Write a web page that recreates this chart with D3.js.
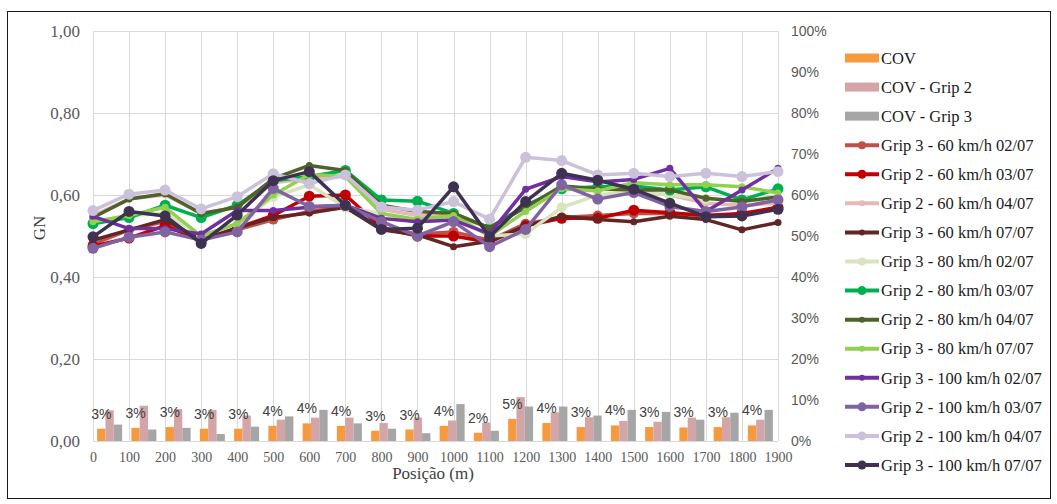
<!DOCTYPE html>
<html>
<head>
<meta charset="utf-8">
<script src="https://cdn.jsdelivr.net/npm/d3@7/dist/d3.min.js"></script>
<style>
  html, body { margin: 0; padding: 0; background: #fff; }
  svg { display: block; }
</style>
</head>
<body>
<svg id="chart" width="1057" height="504"></svg>
<script>
// Positions along the road (m)
const positions = [0,100,200,300,400,500,600,700,800,900,1000,1100,1200,1300,1400,1500,1600,1700,1800,1900];

// Axis ticks
const gnTicks = [0, 0.2, 0.4, 0.6, 0.8, 1.0];
const pctTicks = [0,10,20,30,40,50,60,70,80,90,100];

// Coefficient of variation (%) per segment
const cov      = [3.0,3.2,3.4,3.0,3.0,3.7,4.3,3.7,2.5,2.8,3.7,2.0,5.4,4.4,3.4,3.8,3.4,3.3,3.4,3.8];
const covGrip2 = [7.5,8.6,7.8,7.6,6.2,5.2,5.7,5.7,4.4,5.7,5.0,4.5,10.7,7.0,5.8,4.9,4.7,5.7,5.8,5.2];
const covGrip3 = [4.0,2.8,3.2,1.7,3.5,6.0,7.6,4.3,3.0,1.9,9.0,2.5,8.4,8.4,6.2,7.6,7.1,5.2,6.9,7.6];

// Grip Number readings per run
const g3_60_0207  = [0.480,0.515,0.535,0.490,0.515,0.540,0.560,0.570,0.520,0.505,0.510,0.490,0.530,0.545,0.550,0.555,0.555,0.550,0.550,0.570];
const g2_60_0307  = [0.475,0.495,0.525,0.490,0.520,0.550,0.597,0.600,0.520,0.500,0.500,0.485,0.525,0.543,0.543,0.563,0.557,0.550,0.555,0.570];
const g2_60_0407  = [0.550,0.590,0.600,0.555,0.570,0.630,0.640,0.645,0.565,0.550,0.550,0.520,0.570,0.620,0.615,0.610,0.600,0.580,0.575,0.580];
const g3_60_0707  = [0.490,0.515,0.540,0.490,0.520,0.545,0.556,0.570,0.515,0.503,0.474,0.487,0.525,0.548,0.540,0.535,0.548,0.540,0.515,0.533];
const g3_80_0207  = [0.535,0.550,0.555,0.500,0.530,0.595,0.625,0.570,0.555,0.535,0.545,0.500,0.505,0.570,0.600,0.610,0.600,0.590,0.585,0.590];
const g2_80_0307  = [0.530,0.545,0.575,0.545,0.575,0.635,0.645,0.660,0.588,0.585,0.555,0.520,0.575,0.615,0.620,0.622,0.612,0.620,0.588,0.615];
const g2_80_0407  = [0.545,0.590,0.603,0.555,0.570,0.640,0.672,0.660,0.575,0.560,0.555,0.520,0.570,0.622,0.615,0.612,0.612,0.592,0.585,0.595];
const g3_80_0707  = [0.535,0.550,0.570,0.500,0.530,0.600,0.650,0.645,0.555,0.540,0.550,0.500,0.560,0.615,0.610,0.630,0.625,0.625,0.620,0.605];
const g3_100_0207 = [0.548,0.518,0.518,0.505,0.562,0.562,0.570,0.575,0.543,0.535,0.539,0.505,0.614,0.645,0.632,0.638,0.665,0.560,0.612,0.665];
const g2_100_0307 = [0.470,0.497,0.510,0.490,0.510,0.616,0.572,0.575,0.535,0.500,0.535,0.474,0.516,0.625,0.590,0.606,0.572,0.560,0.571,0.588];
const g2_100_0407 = [0.562,0.602,0.612,0.566,0.596,0.652,0.628,0.649,0.571,0.563,0.584,0.541,0.692,0.684,0.649,0.653,0.645,0.653,0.645,0.657];
const g3_100_0707 = [0.498,0.560,0.549,0.482,0.551,0.635,0.657,0.575,0.516,0.519,0.620,0.498,0.584,0.653,0.636,0.614,0.580,0.547,0.549,0.565];

// Series definitions (values + drawing style)
const barSeries = [
  { name: "COV",          values: cov,      color: "#F79A3E" },
  { name: "COV - Grip 2", values: covGrip2, color: "#D4A5A6" },
  { name: "COV - Grip 3", values: covGrip3, color: "#A6A6A6" }
];
const lineSeries = [
  { name: "Grip 3 - 60 km/h 02/07",  values: g3_60_0207,  color: "#C0504D", r: 5 },
  { name: "Grip 2 - 60 km/h 03/07",  values: g2_60_0307,  color: "#C00000", r: 5.5 },
  { name: "Grip 2 - 60 km/h 04/07",  values: g2_60_0407,  color: "#E6B9B8", r: 3.5 },
  { name: "Grip 3 - 60 km/h 07/07",  values: g3_60_0707,  color: "#632523", r: 3.5 },
  { name: "Grip 3 - 80 km/h 02/07",  values: g3_80_0207,  color: "#D7E4BD", r: 5 },
  { name: "Grip 2 - 80 km/h 03/07",  values: g2_80_0307,  color: "#00B050", r: 5.5 },
  { name: "Grip 2 - 80 km/h 04/07",  values: g2_80_0407,  color: "#4F6228", r: 3.5 },
  { name: "Grip 3 - 80 km/h 07/07",  values: g3_80_0707,  color: "#92D050", r: 3.5 },
  { name: "Grip 3 - 100 km/h 02/07", values: g3_100_0207, color: "#7030A0", r: 3.5 },
  { name: "Grip 2 - 100 km/h 03/07", values: g2_100_0307, color: "#8064A2", r: 5.5 },
  { name: "Grip 2 - 100 km/h 04/07", values: g2_100_0407, color: "#CCC1DA", r: 5.5 },
  { name: "Grip 3 - 100 km/h 07/07", values: g3_100_0707, color: "#3F3151", r: 5.5 }
];

const serif = "'Liberation Serif', 'Times New Roman', serif";
const sans = "'Liberation Sans', Arial, sans-serif";

const svg = d3.select("#chart");
const plot = { left: 93, right: 778, top: 31, bottom: 441 };

// Outer frame
svg.append("rect")
  .attr("x", 7.5).attr("y", 11.5).attr("width", 1043).attr("height", 487)
  .attr("fill", "#fff").attr("stroke", "#1a1a1a").attr("stroke-width", 1);

// Scales
const x = d3.scalePoint().domain(positions).range([plot.left, plot.right]);
const xBand = d3.scaleBand().domain(positions).range([plot.left, plot.right]).padding(0);
const yGN = d3.scaleLinear().domain([0, 1]).range([plot.bottom, plot.top]);
const yPct = d3.scaleLinear().domain([0, 100]).range([plot.bottom, plot.top]);
const inner = d3.scaleBand().domain(barSeries.map(s => s.name))
  .range([xBand.bandwidth() / 2 - 13, xBand.bandwidth() / 2 + 12]).padding(0);

// Gridlines
const grid = svg.append("g").attr("stroke", "#D9D9D9").attr("stroke-width", 1);
grid.selectAll("line.h").data(gnTicks).join("line")
  .attr("x1", plot.left).attr("x2", plot.right)
  .attr("y1", d => Math.round(yGN(d)) + 0.5).attr("y2", d => Math.round(yGN(d)) + 0.5);
grid.selectAll("line.v").data(positions).join("line")
  .attr("y1", plot.top).attr("y2", plot.bottom)
  .attr("x1", d => Math.round(x(d)) + 0.5).attr("x2", d => Math.round(x(d)) + 0.5);

// Left axis (GN)
const leftAxis = svg.append("g").attr("transform", `translate(${plot.left - 13},0)`)
  .call(d3.axisLeft(yGN).tickValues(gnTicks).tickSize(0).tickPadding(0)
    .tickFormat(d => d3.format(".2f")(d).replace(".", ",")));
leftAxis.select(".domain").remove();
leftAxis.selectAll("text")
  .attr("font-family", serif).attr("font-size", 17).attr("fill", "#595959");

// Right axis (%)
const rightAxis = svg.append("g").attr("transform", `translate(${plot.right + 13},0)`)
  .call(d3.axisRight(yPct).tickValues(pctTicks).tickSize(0).tickPadding(0)
    .tickFormat(d => d + "%"));
rightAxis.select(".domain").remove();
rightAxis.selectAll("text")
  .attr("font-family", sans).attr("font-size", 14).attr("fill", "#595959");

// Bottom axis
const bottomAxis = svg.append("g").attr("transform", `translate(0,${plot.bottom + 9})`)
  .call(d3.axisBottom(x).tickSize(0).tickPadding(0));
bottomAxis.select(".domain").remove();
bottomAxis.selectAll("text")
  .attr("dy", "0.85em")
  .attr("font-family", serif).attr("font-size", 14).attr("fill", "#595959");

// Axis line at zero
svg.append("line")
  .attr("x1", plot.left).attr("x2", plot.right)
  .attr("y1", plot.bottom + 0.5).attr("y2", plot.bottom + 0.5)
  .attr("stroke", "#D9D9D9");

// Axis titles
svg.append("text")
  .attr("x", 433).attr("y", 479).attr("text-anchor", "middle")
  .attr("font-family", serif).attr("font-size", 17).attr("fill", "#404040")
  .text("Posição (m)");
svg.append("text")
  .attr("transform", `translate(45,228) rotate(-90)`)
  .attr("text-anchor", "middle")
  .attr("font-family", serif).attr("font-size", 17).attr("fill", "#404040")
  .text("GN");

// COV bars
const barG = svg.append("g");
barSeries.forEach(s => {
  barG.selectAll(null).data(positions.map((p, i) => ({ p, v: s.values[i] }))).join("rect")
    .attr("x", d => xBand(d.p) + inner(s.name))
    .attr("width", inner.bandwidth())
    .attr("y", d => yPct(d.v))
    .attr("height", d => yPct(0) - yPct(d.v))
    .attr("fill", s.color);
});

// Data labels on COV
barG.selectAll("text.lbl").data(positions.map((p, i) => ({ p, v: cov[i] }))).join("text")
  .attr("x", d => xBand(d.p) + inner("COV") + inner.bandwidth() / 2)
  .attr("y", d => yPct(d.v) - 10)
  .attr("text-anchor", "middle")
  .attr("font-family", sans).attr("font-size", 14).attr("fill", "#404040")
  .text(d => Math.round(d.v) + "%");

// Grip lines
const line = d3.line().x((d, i) => x(positions[i])).y(d => yGN(d));
const lineG = svg.append("g");
lineSeries.forEach(s => {
  const g = lineG.append("g");
  g.append("path").datum(s.values)
    .attr("d", line).attr("fill", "none")
    .attr("stroke", s.color).attr("stroke-width", 3.5)
    .attr("stroke-linejoin", "round").attr("stroke-linecap", "round");
  g.selectAll("circle").data(s.values).join("circle")
    .attr("cx", (d, i) => x(positions[i])).attr("cy", d => yGN(d))
    .attr("r", s.r).attr("fill", s.color);
});

// Legend
const legend = svg.append("g");
const legendItems = [...barSeries.map(s => ({ ...s, type: "bar" })), ...lineSeries.map(s => ({ ...s, type: "line" }))];
legendItems.forEach((s, i) => {
  const cy = 58 + i * 29.07;
  const g = legend.append("g");
  if (s.type === "bar") {
    g.append("rect").attr("x", 845).attr("y", cy - 4.5).attr("width", 34).attr("height", 9).attr("fill", s.color);
  } else {
    g.append("line").attr("x1", 845).attr("x2", 879).attr("y1", cy).attr("y2", cy)
      .attr("stroke", s.color).attr("stroke-width", 4);
    g.append("circle").attr("cx", 862).attr("cy", cy).attr("r", Math.max(3, s.r - 1)).attr("fill", s.color);
  }
  g.append("text").attr("x", 881).attr("y", cy).attr("dy", "0.35em")
    .attr("font-family", serif).attr("font-size", 16.5).attr("fill", "#1a1a1a")
    .text(s.name);
});
</script>
</body>
</html>
